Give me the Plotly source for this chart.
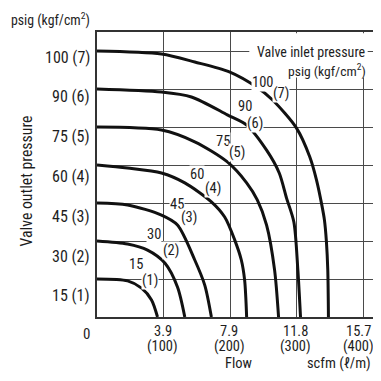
import plotly.graph_objects as go

# ---------------- data ----------------
# outlet pressure levels (kgf/cm2) and their psig equivalents
levels_kgf = [1, 2, 3, 4, 5, 6, 7]
levels_psig = [15, 30, 45, 60, 75, 90, 100]

# flow ticks: l/min and scfm
flow_lpm_ticks = [100, 200, 300, 400]
flow_scfm_ticks = ["3.9", "7.9", "11.8", "15.7"]

# curves: flow (l/min) vs outlet pressure (kgf/cm2), one per inlet pressure
c15_flow = [0, 46, 67, 82, 91]
c15_p = [1.0, 0.95, 0.76, 0.45, 0.0]

c30_flow = [0, 46, 76, 102, 121, 132]
c30_p = [2.0, 1.92, 1.76, 1.42, 0.79, 0.0]

c45_flow = [0, 46, 97, 121, 147, 162, 172]
c45_p = [3.0, 2.95, 2.68, 2.42, 1.5, 0.84, 0.0]

c60_flow = [0, 46, 97, 132, 172, 192, 207, 217, 222, 225]
c60_p = [4.0, 3.92, 3.79, 3.53, 3.03, 2.63, 2.03, 1.5, 0.97, 0.0]

c75_flow = [0, 97, 147, 196, 225, 241, 255, 267, 273]
c75_p = [5.0, 4.92, 4.61, 4.08, 3.53, 3.08, 2.42, 1.24, 0.0]

c90_flow = [0, 97, 142, 196, 225, 255, 274, 285, 296, 302, 306]
c90_p = [6.0, 5.92, 5.79, 5.32, 5.05, 4.39, 3.79, 3.13, 2.5, 1.24, 0.0]

c100_flow = [0, 97, 147, 199, 240, 264, 300, 320, 330, 338, 342, 345, 347, 348]
c100_p = [7.0, 6.92, 6.71, 6.45, 6.05, 5.71, 4.97, 4.21, 3.61, 2.95, 2.55, 1.97, 1.24, 0.0]

curves = [
    (c15_flow, c15_p), (c30_flow, c30_p), (c45_flow, c45_p), (c60_flow, c60_p),
    (c75_flow, c75_p), (c90_flow, c90_p), (c100_flow, c100_p),
]

# ---------------- layout helpers (positions, not data) ----------------
FONT = "Liberation Sans Narrow, Arial Narrow, Roboto Condensed, Liberation Sans, Arial, sans-serif"
TXT = "#1e1e1e"
GRID = "#4a4a4a"

# curve label anchor positions in data coordinates (psig label, (kgf) label)
label_psig_pos = [(59, 1.37), (85, 2.16), (121, 2.95), (150, 3.74), (189, 4.61), (222, 5.53), (249, 6.18)]
label_kgf_pos = [(79, 0.97), (112, 1.76), (139, 2.61), (174, 3.39), (210, 4.32), (237, 5.08), (277, 5.89)]

fig = go.Figure()
for fx, fp in curves:
    fig.add_trace(go.Scatter(x=fx, y=fp, mode="lines",
                             line=dict(color="#111111", width=3, shape="spline", smoothing=0.8),
                             hoverinfo="skip", showlegend=False))

ann = []
# y tick labels
for lv, ps in zip(levels_kgf, levels_psig):
    ann.append(dict(x=0, y=lv, xref="x", yref="y", text=f"{ps} ({lv})", showarrow=False,
                    xanchor="right", yanchor="middle", xshift=-5, yshift=-(6 + (7 - lv) * 1.8),
                    font=dict(family=FONT, size=16, color=TXT)))
# x tick labels
for i, (lpm, sc) in enumerate(zip(flow_lpm_ticks, flow_scfm_ticks)):
    xs = -5 if i == len(flow_lpm_ticks) - 1 else -1
    ann.append(dict(x=lpm, y=0, xref="x", yref="y", text=sc, showarrow=False, borderpad=0,
                    xanchor="center", yanchor="middle", xshift=xs, yshift=-14.5,
                    font=dict(family=FONT, size=14.5, color=TXT)))
    ann.append(dict(x=lpm, y=0, xref="x", yref="y", text=f"({lpm})", showarrow=False, borderpad=0,
                    xanchor="center", yanchor="middle", xshift=xs, yshift=-29,
                    font=dict(family=FONT, size=14.5, color=TXT)))
ann.append(dict(x=0, y=0, xref="x", yref="y", text="0", showarrow=False,
                xanchor="center", yanchor="middle", xshift=-10.5, yshift=-17,
                font=dict(family=FONT, size=15, color=TXT)))
# axis titles
ann.append(dict(x=0, y=7.5, xref="x", yref="y", text="psig (kgf/cm<sup>2</sup>)", showarrow=False,
                xanchor="right", yanchor="middle", xshift=-5, yshift=13,
                font=dict(family=FONT, size=13.8, color=TXT)))
ann.append(dict(x=0, y=3.58, xref="x", yref="y", text="Valve outlet pressure", showarrow=False,
                textangle=-90, xanchor="center", yanchor="middle", xshift=-70.5,
                font=dict(family=FONT, size=15.8, color=TXT)))
ann.append(dict(x=214, y=0, xref="x", yref="y", text="Flow", showarrow=False, borderpad=0,
                xanchor="center", yanchor="middle", yshift=-46,
                font=dict(family=FONT, size=14.5, color=TXT)))
ann.append(dict(x=364, y=0, xref="x", yref="y", text="scfm (ℓ/m)", showarrow=False, borderpad=0,
                xanchor="center", yanchor="middle", yshift=-46,
                font=dict(family=FONT, size=14.5, color=TXT)))
# inlet pressure legend text
ann.append(dict(x=407, y=6.97, xref="x", yref="y", text="Valve inlet pressure", showarrow=False,
                xanchor="right", yanchor="middle",
                font=dict(family=FONT, size=14, color=TXT)))
ann.append(dict(x=407, y=6.5, xref="x", yref="y", text="psig (kgf/cm<sup>2</sup>)", showarrow=False,
                xanchor="right", yanchor="middle",
                font=dict(family=FONT, size=13.6, color=TXT)))
# curve labels
for (px, py), (kx, ky), lv, ps in zip(label_psig_pos, label_kgf_pos, levels_kgf, levels_psig):
    ann.append(dict(x=px, y=py, xref="x", yref="y", text=str(ps), showarrow=False,
                    xanchor="center", yanchor="middle", bgcolor="white", borderpad=0,
                    font=dict(family=FONT, size=14.5, color=TXT)))
    ann.append(dict(x=kx, y=ky, xref="x", yref="y", text=f"({lv})", showarrow=False,
                    xanchor="center", yanchor="middle", bgcolor="white", borderpad=0,
                    font=dict(family=FONT, size=14.5, color=TXT)))

# page body has an 8px margin, so the figure is sized/offset to compensate
fig.update_layout(
    width=365, height=365,
    margin=dict(l=89, r=0, t=24, b=56),
    paper_bgcolor="white", plot_bgcolor="white",
    annotations=ann,
    shapes=[dict(type="rect", xref="x", yref="y", x0=229, x1=407, y0=6.3, y1=7.47,
                 fillcolor="white", line=dict(width=0), layer="between")],
    xaxis=dict(range=[0, 415], tickvals=flow_lpm_ticks, showticklabels=False, ticks="",
               showgrid=True, gridcolor=GRID, gridwidth=1.4, zeroline=False,
               showline=True, linecolor="#333333", linewidth=1.6, mirror=True),
    yaxis=dict(range=[0, 7.5], tickvals=levels_kgf, showticklabels=False, ticks="",
               showgrid=True, gridcolor=GRID, gridwidth=1.4, zeroline=False,
               showline=True, linecolor="#333333", linewidth=1.6),
)

fig.write_html("out.html")
